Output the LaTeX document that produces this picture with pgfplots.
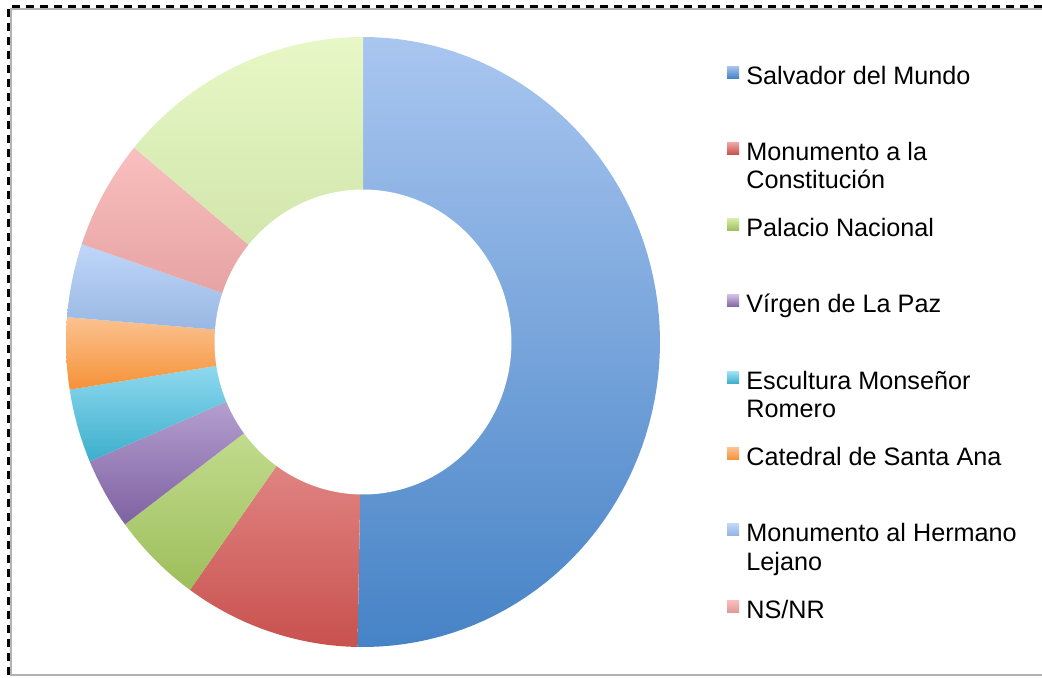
\documentclass[border=0pt]{standalone}
\usepackage{pgfplots}
\usepackage{pgfplotstable}
\pgfplotsset{compat=1.18}
\usepackage{fontspec}
\setmainfont{Liberation Sans}

% share of each slice, in percent, clockwise from 12 o'clock
\pgfplotstableread{
idx pct
0   50.3
1   9.6
2   4.9
3   3.8
4   3.9
5   3.8
6   3.9
7   5.8
8   14.0
}\slices

\definecolor{ctop0}{HTML}{A9C6F0}\definecolor{cbot0}{HTML}{4683C6}
\definecolor{ctop1}{HTML}{F0A6A4}\definecolor{cbot1}{HTML}{C8514E}
\definecolor{ctop2}{HTML}{D6EDAA}\definecolor{cbot2}{HTML}{9DBE5B}
\definecolor{ctop3}{HTML}{CFBCE6}\definecolor{cbot3}{HTML}{7E62A1}
\definecolor{ctop4}{HTML}{A2E3F8}\definecolor{cbot4}{HTML}{3CAFCB}
\definecolor{ctop5}{HTML}{FBC290}\definecolor{cbot5}{HTML}{F59237}
\definecolor{ctop6}{HTML}{BFD6F8}\definecolor{cbot6}{HTML}{93B3E0}
\definecolor{ctop7}{HTML}{F9BFBE}\definecolor{cbot7}{HTML}{E09A9A}
\definecolor{ctop8}{HTML}{E7F8C6}\definecolor{cbot8}{HTML}{C9DDA0}

\begin{document}
\begin{tikzpicture}
\begin{axis}[
    width=521pt, height=338.5pt, scale only axis,
    xmin=0, xmax=1042, ymin=0, ymax=677,
    hide axis, clip=false,
  ]
  \def\astart{0}
  \pgfplotsforeachungrouped \i in {0,...,8}{%
    \pgfplotstablegetelem{\i}{pct}\of\slices
    \pgfmathsetmacro\aend{\astart+3.6*\pgfplotsretval}%
    \edef\doslice{\noexpand\addplot[draw=none, top color=ctop\i, bottom color=cbot\i,
        domain=\astart:\aend, samples=80, variable=\noexpand\t]
      ({363+297*sin(\noexpand\t)},{335+305*cos(\noexpand\t)}) -- (axis cs:363,335) -- cycle;}%
    \doslice
    \global\let\astart\aend
  }
  % hole
  \addplot[draw=none, fill=white, domain=0:360, samples=160, variable=\t]
    ({363+148.5*sin(t)},{335+152.5*cos(t)}) -- cycle;

  % legend
  \def\legentry#1#2#3#4{%
    \fill[top color=ctop#1, bottom color=cbot#1] (axis cs:727,677-#2+6) rectangle (axis cs:739,677-#2+18);
    \node[anchor=base west, inner sep=0pt, font=\fontsize{12.6}{14}\selectfont] at (axis cs:746,677-#2) {#3};
    \node[anchor=base west, inner sep=0pt, font=\fontsize{12.6}{14}\selectfont] at (axis cs:746,677-#2-28.5) {#4};
  }
  \legentry{0}{84}{Salvador del Mundo}{}
  \legentry{1}{160.3}{Monumento a la}{Constitución}
  \legentry{2}{236.6}{Palacio Nacional}{}
  \legentry{3}{312.9}{Vírgen de La Paz}{}
  \legentry{4}{389.2}{Escultura Monseñor}{Romero}
  \legentry{5}{465.5}{Catedral de Santa Ana}{}
  \legentry{6}{541.8}{Monumento al Hermano}{Lejano}
  \legentry{7}{618.1}{NS/NR}{}

  % frame
  \draw[gray!60, line width=0.6pt] (axis cs:1042,677-9) -- (axis cs:11,677-9) -- (axis cs:11,677-675) -- (axis cs:1042,677-675);
  \draw[black, line width=1.3pt, dash pattern=on 4pt off 3pt] (axis cs:1042,677-6.5) -- (axis cs:8.5,677-6.5) -- (axis cs:8.5,0);
\end{axis}
\pgfresetboundingbox
\path (0,0) rectangle (521pt,338.5pt);
\end{tikzpicture}
\end{document}
